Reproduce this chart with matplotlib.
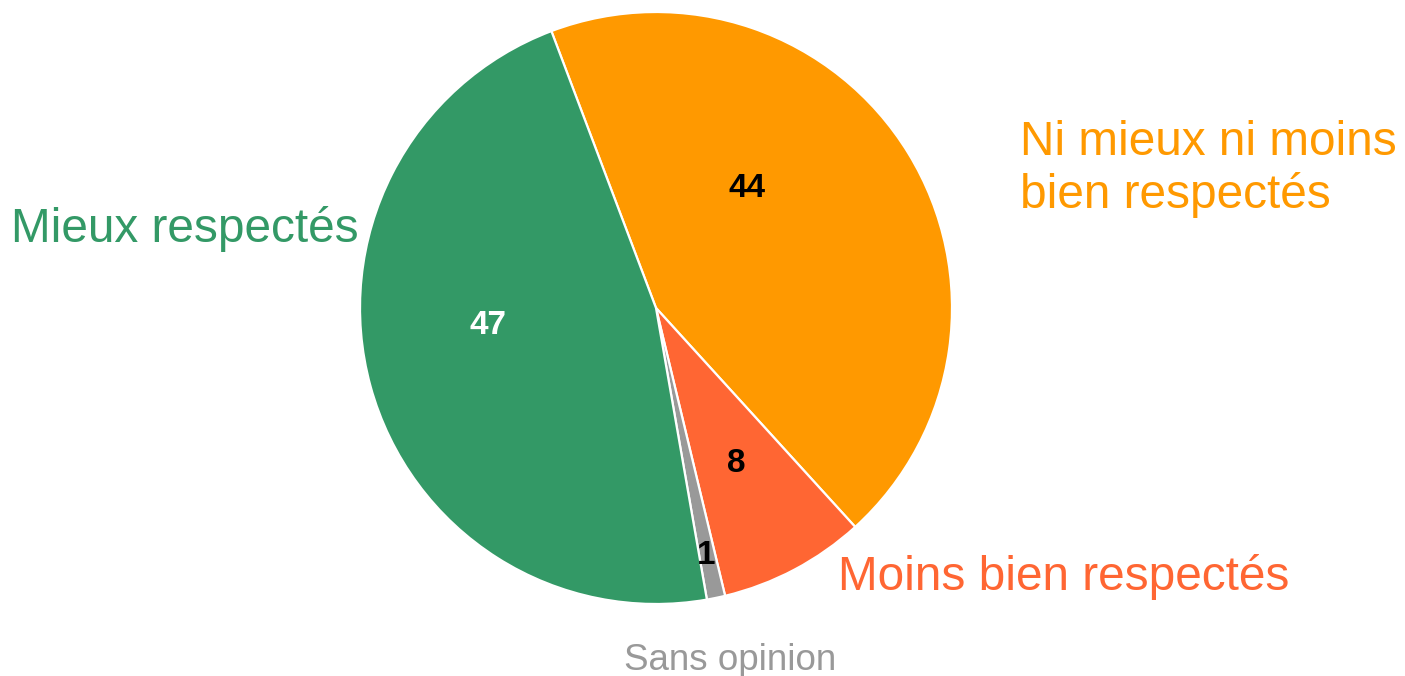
import matplotlib.pyplot as plt

plt.rcParams['font.family'] = ['Liberation Sans', 'DejaVu Sans']

# data
categories = ['Ni mieux ni moins\nbien respectés', 'Moins bien respectés', 'Sans opinion', 'Mieux respectés']
values = [44, 8, 1, 47]
colors = ['#FF9900', '#FF6633', '#999999', '#339966']
value_colors = ['black', 'black', 'black', 'white']

W, H = 1405, 676
cx, cy, r = 656, 308, 296

fig = plt.figure(figsize=(W / 100, H / 100), dpi=100)
ax = fig.add_axes([(cx - r) / W, (H - cy - r) / H, 2 * r / W, 2 * r / H])
ax.pie(values, colors=colors, startangle=110.7, counterclock=False, radius=1,
       wedgeprops=dict(edgecolor='white', linewidth=1.6))
ax.set_xlim(-1, 1)
ax.set_ylim(-1, 1)
ax.axis('off')

# value labels (pixel positions of the text in the picture)
value_pos = [(747, 189), (736, 464), (706, 555), (488, 325)]
for v, (px, py), c in zip(values, value_pos, value_colors):
    fig.text(px / W, 1 - py / H, str(v), color=c, fontsize=24, fontweight='bold',
             ha='center', va='center')

# category labels
fig.text(1020 / W, 1 - 169 / H, categories[0], color=colors[0], fontsize=34.4,
         ha='left', va='center', linespacing=1.2)
fig.text(838 / W, 1 - 577 / H, categories[1], color=colors[1], fontsize=34.4,
         ha='left', va='center')
fig.text(730 / W, 1 - 661 / H, categories[2], color=colors[2], fontsize=26.5,
         ha='center', va='center')
fig.text(11 / W, 1 - 229 / H, categories[3], color=colors[3], fontsize=34.4,
         ha='left', va='center')

fig.savefig('out.png', dpi=100)
